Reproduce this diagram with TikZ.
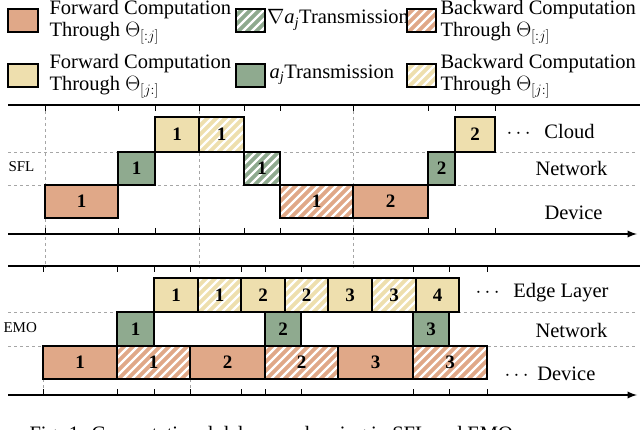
\documentclass[tikz,border=0pt]{standalone}
\usepackage{fontspec}
\setmainfont{Liberation Serif}
\usepackage{amsmath}
\begin{document}
\begin{tikzpicture}[x=1pt,y=-1pt,
  lbl/.style={font=\fontsize{20.5}{22}\selectfont},
  num/.style={font=\fontsize{19}{20}\selectfont\bfseries},
  bxs/.style={draw=black,line width=1.3pt,inner sep=0,outer sep=0,anchor=north west},
  cO/.style={bxs,fill=orgc},
  cY/.style={bxs,fill=yelc},
  cG/.style={bxs,fill=grnc},
  hatch/.style={bxs,fill=#1,path picture={
     \foreach \i in {-80,-71,...,80}
       \draw[white,line width=2.2pt] ([xshift=\i pt,yshift=-5pt]path picture bounding box.south west) -- ++(60,-60);}},
  hO/.style={hatch=orgc},
  hY/.style={hatch=yelc},
  hG/.style={hatch=grnc},
  axis/.style={line width=2.2pt},
  grid/.style={gray!70,dashed,line width=0.6pt}]
\definecolor{orgc}{HTML}{E0A888}
\definecolor{yelc}{HTML}{EEDFAE}
\definecolor{grnc}{HTML}{8FAA8F}
\useasboundingbox (0,0) rectangle (640,430);
\newcommand\bx[7]{\pgfmathsetmacro\ww{#5-#3}\pgfmathsetmacro\hh{#6-#4}%
  \node[#2,minimum width=\ww pt,minimum height=\hh pt] (#1) at (#3,#4) {};
  \node[num] at (#1.center) {#7};}
\newcommand\aj{{\itshape a}\textsubscript{\itshape j}}
% legend
\bx{l1}{cO}{8}{9}{38}{32}{}
\node[lbl,anchor=north west,align=left] at (46,-3) {Forward Computation\\Through $\Theta_{[:j]}$};
\bx{l2}{cY}{8}{64}{38}{87}{}
\node[lbl,anchor=north west,align=left] at (46,51) {Forward Computation\\Through $\Theta_{[j:]}$};
\bx{l3}{hG}{236}{9}{265}{32}{}
\node[lbl,anchor=west,inner sep=1pt] at (266,20) {$\nabla$\aj Transmission};
\bx{l4}{cG}{236}{64}{265}{87}{}
\node[lbl,anchor=west] at (266,75) {\aj Transmission};
\bx{l5}{hO}{407}{9}{436}{32}{}
\node[lbl,anchor=north west,align=left] at (437,-3) {Backward Computation\\Through $\Theta_{[:j]}$};
\bx{l6}{hY}{407}{64}{436}{87}{}
\node[lbl,anchor=north west,align=left] at (437,51) {Backward Computation\\Through $\Theta_{[j:]}$};
% SFL
\coordinate (s0) at (8,105); \coordinate (s1) at (640,105);
\coordinate (a0) at (8,234); \coordinate (a1) at (637,234);
\foreach \x in {45,199,353} \draw[grid] (\x,105) -- (\x,268);
\draw[grid] (8,152) -- (635,152);
\draw[grid] (8,185) -- (635,185);
\draw[axis] (s0) -- (s1);
\draw[axis,-latex] (a0) -- (a1);
\foreach \x in {45,118,155,199,244,280,353,428,455,495}{
  \draw[line width=1pt] (\x,105) -- (\x,111);
  \draw[line width=1pt] (\x,228) -- (\x,234);}
\bx{d1}{cO}{45}{185}{118}{218}{1}
\bx{n1}{cG}{118}{152}{155}{185}{1}
\bx{c1}{cY}{155}{117}{199}{152}{1}
\bx{c2}{hY}{199}{117}{244}{152}{1}
\bx{n2}{hG}{244}{152}{280}{185}{1}
\bx{d2}{hO}{280}{185}{353}{218}{1}
\bx{d3}{cO}{353}{185}{428}{218}{2}
\bx{n3}{cG}{428}{152}{455}{185}{2}
\bx{c3}{cY}{455}{117}{495}{152}{2}
\node[lbl,anchor=west] at (503,131) {$\cdots$\ \ Cloud};
\node[lbl,anchor=west] at (532,168) {Network};
\node[lbl,anchor=west] at (541,213) {Device};
\node[font=\fontsize{15}{17}\selectfont,anchor=west] at (5,167) {SFL};
% EMO
\coordinate (e0) at (8,266); \coordinate (e1) at (640,266);
\coordinate (b0) at (8,395); \coordinate (b1) at (637,395);
\draw[grid] (8,312) -- (635,312);
\draw[grid] (8,346) -- (635,346);
\foreach \x in {43,190} \draw[grid] (\x,379) -- (\x,395);
\draw[axis] (e0) -- (e1);
\draw[axis,-latex] (b0) -- (b1);
\foreach \x in {43,117,154,190,241,265,301,413,449,487}{
  \draw[line width=1pt] (\x,266) -- (\x,272);
  \draw[line width=1pt] (\x,389) -- (\x,395);}
\bx{g1}{cY}{154}{278}{198}{312}{1}
\bx{g2}{hY}{198}{278}{241}{312}{1}
\bx{g3}{cY}{241}{278}{285}{312}{2}
\bx{g4}{hY}{285}{278}{328}{312}{2}
\bx{g5}{cY}{328}{278}{372}{312}{3}
\bx{g6}{hY}{372}{278}{416}{312}{3}
\bx{g7}{cY}{416}{278}{459}{312}{4}
\bx{m1}{cG}{117}{312}{154}{346}{1}
\bx{m2}{cG}{265}{312}{301}{346}{2}
\bx{m3}{cG}{413}{312}{449}{346}{3}
\bx{f1}{cO}{43}{346}{117}{379}{1}
\bx{f2}{hO}{117}{346}{190}{379}{1}
\bx{f3}{cO}{190}{346}{265}{379}{2}
\bx{f4}{hO}{265}{346}{338}{379}{2}
\bx{f5}{cO}{338}{346}{413}{379}{3}
\bx{f6}{hO}{413}{346}{487}{379}{3}
\node[lbl,anchor=west] at (472,293) {$\cdots$\ \ Edge Layer};
\node[lbl,anchor=west] at (532,330) {Network};
\node[lbl,anchor=west] at (501,374) {$\cdots$\ Device};
\node[font=\fontsize{15}{17}\selectfont,anchor=west] at (0,328) {EMO};
\node[lbl,anchor=west] at (26,436) {Fig. 1: Computational delay overlapping in SFL and EMO};
\end{tikzpicture}
\end{document}
